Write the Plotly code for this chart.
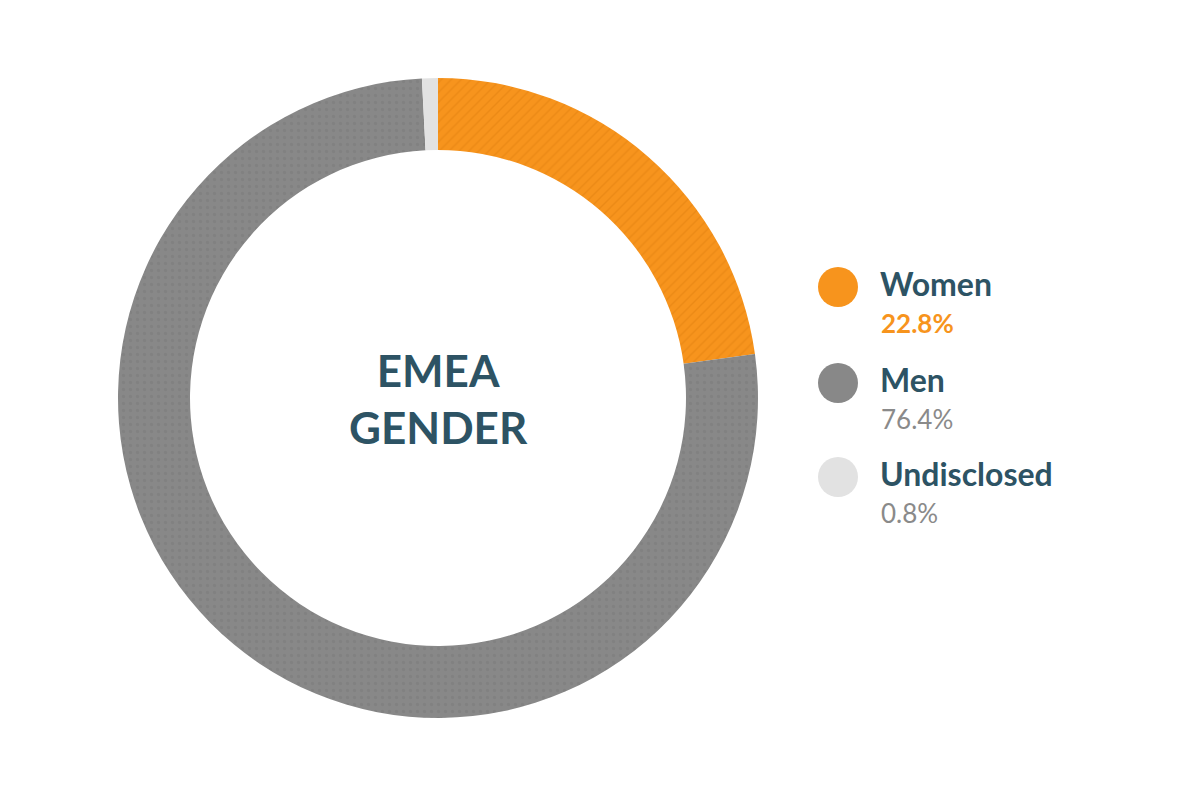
import plotly.graph_objects as go

labels = ["Women", "Men", "Undisclosed"]
values = [22.8, 76.4, 0.8]
value_labels = ["22.8%", "76.4%", "0.8%"]
colors = ["#F7941D", "#888888", "#E2E2E2"]
pct_colors = ["#F7941D", "#8A8A8A", "#8A8A8A"]
patterns = ["/", ".", ""]
title_text = "EMEA<br>GENDER"

W, H = 1200, 800
DX, DY = -8, -8
fig = go.Figure(go.Pie(
    labels=labels, values=values, sort=False, direction="clockwise", rotation=0,
    hole=0.775, textinfo="none", hoverinfo="label+percent",
    marker=dict(colors=colors, line=dict(width=0),
                pattern=dict(shape=patterns, fgcolor=["#E07F10", "#7A7A7A", "#E2E2E2"],
                             fillmode="overlay", size=7, solidity=0.2)),
    domain=dict(x=[(118 + DX) / W, (758 + DX) / W],
                y=[(800 - 718 - DY) / H, (800 - 78 - DY) / H]),
    showlegend=False,
))

fig.add_annotation(text=title_text, x=(438 + DX) / W, y=1 - (398 + DY) / H, xref="paper", yref="paper",
                   showarrow=False, font=dict(family="Lato", size=44, color="#2D5364", weight="bold"),
                   align="center")

ys = [287, 383, 477]
for i, (lab, vl) in enumerate(zip(labels, value_labels)):
    cy = ys[i] + DY
    cx = 838 + DX
    fig.add_shape(type="circle", xref="paper", yref="paper",
                  x0=(cx - 20) / W, x1=(cx + 20) / W, y0=1 - (cy + 20) / H, y1=1 - (cy - 20) / H,
                  fillcolor=colors[i], line=dict(width=0), layer="above")
    fig.add_annotation(text=lab, x=(878 + DX) / W, y=1 - (cy - 4) / H, xref="paper", yref="paper",
                       xanchor="left", yanchor="middle", showarrow=False,
                       font=dict(family="Lato", size=32, color="#2D5364", weight="bold"))
    fig.add_annotation(text=vl, x=(879 + DX) / W, y=1 - (cy + 36) / H, xref="paper", yref="paper",
                       xanchor="left", yanchor="middle", showarrow=False,
                       font=dict(family="Lato", size=26, color=pct_colors[i], weight="bold" if i == 0 else "normal"))

fig.update_layout(width=W, height=H, margin=dict(l=0, r=0, t=0, b=0),
                  paper_bgcolor="white", plot_bgcolor="white")
fig.write_html("out.html")
